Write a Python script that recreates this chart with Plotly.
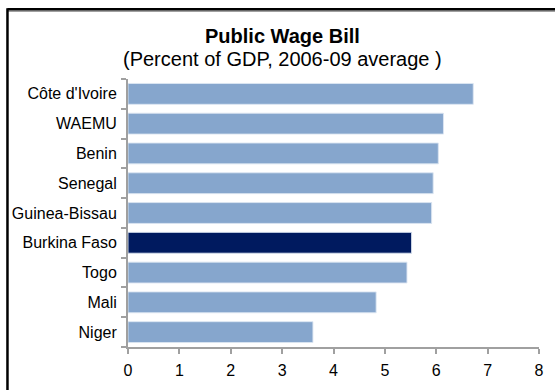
import plotly.graph_objects as go

# Public wage bill, percent of GDP, 2006-09 average
countries = ["Côte d'Ivoire", "WAEMU", "Benin", "Senegal", "Guinea-Bissau",
             "Burkina Faso", "Togo", "Mali", "Niger"]
wage_bill = [6.72, 6.14, 6.04, 5.94, 5.91, 5.52, 5.43, 4.83, 3.60]
highlight = "Burkina Faso"
x_ticks = [0, 1, 2, 3, 4, 5, 6, 7, 8]

W, H = 555, 390
ML, MR, MT, MB = 128, 11, 79, 42
PW, PH = W - ML - MR, H - MT - MB

def px_x(p):
    return (p - ML) / PW

def px_y(p):
    return (H - MB - p) / PH

light = "#86A6CD"
dark = "#001A5F"
colors = [dark if c == highlight else light for c in countries]

fig = go.Figure(go.Bar(
    x=wage_bill, y=countries, orientation="h",
    marker=dict(color=colors, line=dict(color="rgba(220,230,242,0.9)", width=1)),
    hoverinfo="x+y",
))

font = "Liberation Sans, Arial, sans-serif"
axis_grey = "#A0A0A0"

fig.update_layout(
    width=W, height=H,
    margin=dict(l=ML, r=MR, t=MT, b=MB, pad=0),
    paper_bgcolor="white", plot_bgcolor="white",
    bargap=0.3,
    showlegend=False,
    font=dict(family=font, size=15, color="black"),
    xaxis=dict(
        range=[0, 8], tickvals=x_ticks, ticks="outside", ticklen=5,
        tickwidth=2, tickcolor=axis_grey, showline=True, linecolor=axis_grey,
        linewidth=2, showgrid=False, zeroline=False, ticklabelstandoff=3,
        tickfont=dict(size=16), fixedrange=True,
    ),
    yaxis=dict(
        categoryorder="array", categoryarray=countries[::-1],
        range=[-0.5, len(countries) - 0.5],
        ticks="outside", tickson="boundaries", ticklen=5, tickwidth=2,
        tickcolor=axis_grey, showline=True, linecolor=axis_grey, linewidth=2,
        showgrid=False, zeroline=False, ticklabelstandoff=6,
        tickfont=dict(size=16), fixedrange=True,
    ),
    annotations=[
        dict(text="<b>Public Wage Bill</b>", xref="paper", yref="paper",
             x=px_x(284), y=px_y(36), xanchor="center", yanchor="middle",
             showarrow=False, font=dict(size=20)),
        dict(text="(Percent of GDP, 2006-09 average )", xref="paper", yref="paper",
             x=px_x(284), y=px_y(59), xanchor="center", yanchor="middle",
             showarrow=False, font=dict(size=20)),
    ],
    shapes=[
        # outer frame: top and left edges
        dict(type="line", xref="paper", yref="paper",
             x0=px_x(6), x1=px_x(W + 20), y0=px_y(11), y1=px_y(11),
             line=dict(color="#A0A0A0", width=1.5)),
        dict(type="line", xref="paper", yref="paper",
             x0=px_x(6), x1=px_x(W + 20), y0=px_y(9), y1=px_y(9),
             line=dict(color="black", width=2.5)),
        dict(type="line", xref="paper", yref="paper",
             x0=px_x(6), x1=px_x(6), y0=px_y(8), y1=px_y(H + 20),
             line=dict(color="black", width=2.5)),
    ],
)

fig.write_html("out.html")
